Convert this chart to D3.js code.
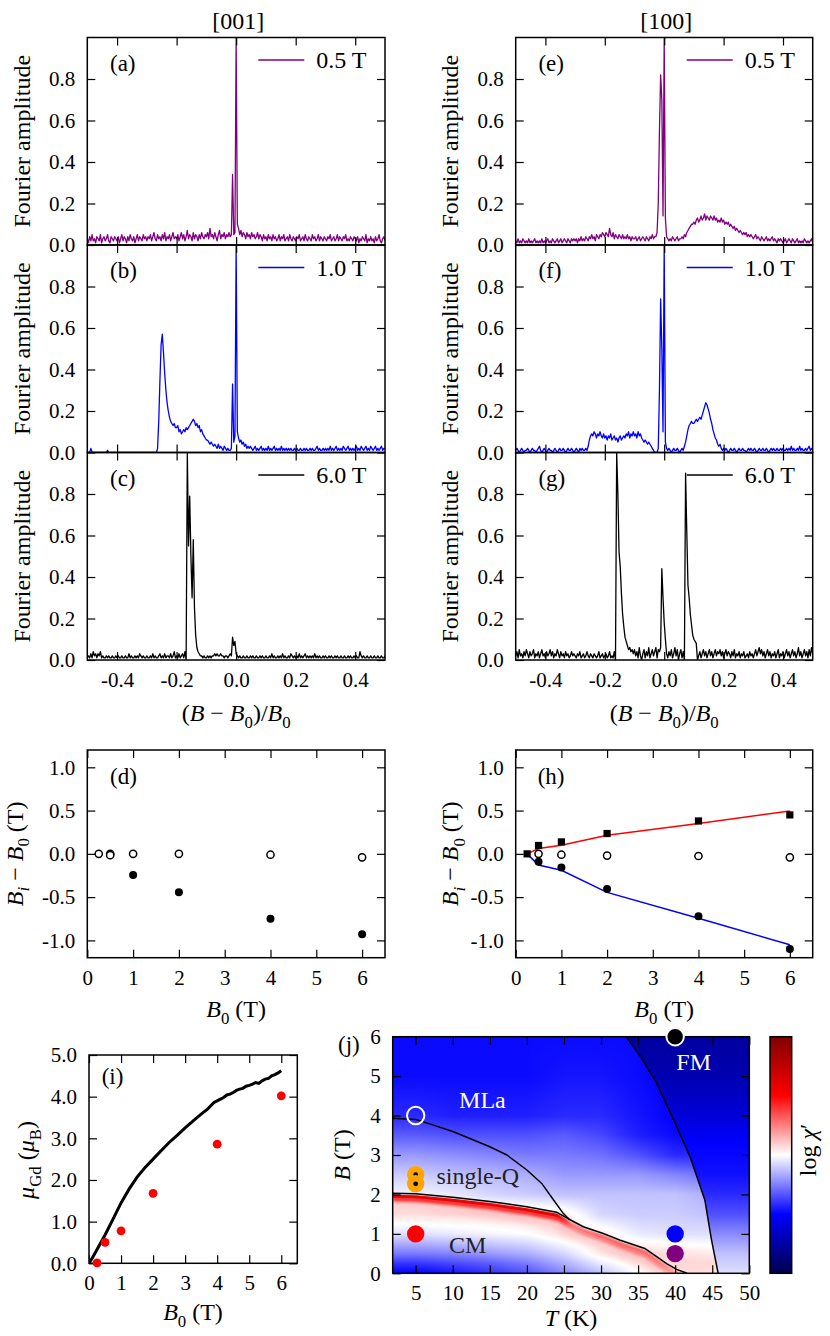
<!DOCTYPE html>
<html><head><meta charset="utf-8">
<script src="https://cdn.jsdelivr.net/npm/d3@7"></script>
<style>
body{margin:0;background:#fff;}
svg, svg text, svg tspan{font-family:'Liberation Serif','DejaVu Serif','Noto Serif',serif !important;}
</style></head><body>
<svg id="fig" width="830" height="1336" font-family="Liberation Serif, DejaVu Serif, serif"></svg>
<script>
// ---------------- DATA ----------------
// Fourier spectra, sampled on (B-B0)/B0 from -0.5 to 0.5 every 0.004 (251 samples)
const specStart = -0.5, specStep = 0.004;
const spec001_05T = [
.03,.01,.04,.02,.05,.02,.03,.01,.04,.03,.02,.05,.01,.03,.04,.02,.03,.05,.02,.01,.04,.03,.02,.04,.03,
.02,.04,.01,.03,.05,.02,.04,.03,.01,.04,.02,.05,.03,.02,.04,.01,.03,.05,.02,.04,.03,.02,.05,.03,.04,
.02,.04,.03,.05,.02,.04,.06,.03,.02,.05,.03,.04,.02,.05,.03,.06,.02,.04,.03,.05,.02,.04,.06,.03,.04,
.03,.05,.02,.04,.06,.03,.05,.02,.04,.07,.03,.05,.04,.02,.06,.03,.05,.04,.02,.05,.03,.06,.04,.03,.05,
.04,.06,.03,.08,.04,.05,.03,.06,.04,.02,.05,.07,.03,.05,.04,.06,.03,.05,.04,.06,.04,.05,.34,.05,.06,
1.0,.10,.08,.05,.07,.04,.06,.05,.03,.06,.04,.05,.03,.06,.04,.05,.03,.04,.06,.03,.05,.04,.02,.05,.03,
.04,.02,.05,.03,.04,.02,.05,.03,.04,.02,.03,.05,.02,.04,.03,.05,.02,.03,.04,.02,.05,.03,.02,.04,.03,
.02,.04,.03,.05,.02,.03,.04,.02,.05,.03,.02,.04,.03,.02,.05,.03,.04,.02,.03,.05,.02,.04,.03,.02,.04,
.03,.02,.04,.03,.05,.02,.03,.04,.02,.03,.05,.02,.04,.03,.02,.04,.03,.05,.02,.03,.02,.04,.03,.02,.04,
.03,.02,.04,.01,.03,.02,.04,.03,.02,.05,.01,.03,.02,.04,.02,.03,.01,.04,.02,.03,.05,.02,.01,.03,.04,
.02];
const spec001_10T = [
0,0,0,.02,0,0,0,0,0,0,0,0,0,0,0,0,0,.01,0,0,0,0,0,0,0,
0,0,0,0,0,0,0,0,0,0,0,0,0,0,0,0,0,0,0,0,0,0,0,0,0,
0,0,0,0,0,0,0,0,0,.02,.15,.35,.52,.57,.48,.38,.30,.24,.20,.17,.15,.14,.13,.14,.12,
.12,.13,.10,.11,.09,.10,.11,.10,.12,.11,.12,.13,.14,.15,.16,.15,.13,.14,.12,.13,.10,.11,.09,.08,.07,
.06,.06,.05,.04,.05,.04,.03,.04,.03,.02,.04,.02,.03,.02,.01,.03,.02,.01,.02,.01,.01,.02,.33,.05,.08,
1.0,.10,.07,.05,.06,.04,.05,.03,.04,.02,.03,.02,.03,.02,.01,.02,.03,.01,.02,.01,.02,.03,.01,.02,.01,
.02,.01,.03,.01,.02,.01,.02,.03,.01,.02,.01,.02,.01,.03,.01,.02,.01,.02,.01,.02,.01,.02,.01,.01,.02,
.01,.02,.01,.01,.02,.01,.01,.02,.01,.02,.01,.01,.02,.01,.02,.01,.01,.02,.03,.01,.02,.01,.01,.02,.01,
.02,.01,.02,.01,.03,.01,.02,.01,.02,.03,.01,.02,.01,.02,.01,.03,.02,.01,.02,.03,.01,.02,.01,.02,.01,
.02,.03,.01,.02,.01,.03,.02,.01,.02,.03,.01,.02,.01,.03,.02,.01,.02,.03,.01,.02,.01,.02,.03,.01,.02,
.02];
const spec001_60T = [
.01,.02,.01,.03,.01,.04,.02,.03,.01,.03,.02,.04,.01,.02,.01,.01,.02,.01,.02,.01,.01,.02,.01,.01,.02,
.01,.02,.01,.01,.02,.01,.01,.02,.01,.01,.03,.01,.02,.01,.01,.02,.01,.02,.01,.03,.02,.01,.02,.01,.01,
.02,.01,.01,.02,.01,.03,.01,.02,.01,.01,.02,.03,.01,.02,.01,.03,.01,.02,.02,.01,.03,.01,.02,.04,.01,
.02,.01,.03,.01,.02,.03,.01,.04,0,1.0,.55,.79,.50,.30,.58,.25,.12,.06,.04,.03,.02,.02,.01,.02,.01,
.01,.02,.01,.02,.01,.02,.02,.03,.02,.03,.02,.02,.03,.02,.02,.01,.02,.02,.01,.02,.03,.02,.11,.07,.09,
.03,.02,.01,.02,.01,.01,.02,.01,.01,.02,.01,.01,.02,.01,.02,.01,.01,.02,.01,.01,.02,.01,.02,.01,.01,
.02,.01,.01,.02,.01,.03,.01,.02,.01,.01,.02,.01,.02,.01,.03,.01,.02,.01,.01,.02,.01,.03,.02,.01,.02,
.01,.02,.01,.03,.01,.02,.01,.02,.03,.01,.02,.01,.02,.01,.02,.01,.03,.01,.02,.01,.02,.01,.01,.02,.01,
.02,.01,.01,.02,.01,.02,.01,.01,.02,.01,.02,.01,.01,.02,.01,.01,.02,.01,.01,.02,.01,.02,.01,.01,.02,
.01,.02,.01,.01,.04,.02,.01,.02,.01,.01,.02,.01,.01,.02,.01,.01,.02,.01,.01,.02,.01,.01,.02,.01,.01,
.02];
const spec100_05T = [
.02,.01,.03,.01,.02,.01,.03,.02,.01,.02,.01,.03,.01,.02,.01,.02,.03,.01,.02,.01,.02,.01,.03,.01,.02,
.01,.02,.03,.01,.02,.01,.03,.02,.01,.02,.03,.01,.02,.03,.01,.02,.03,.02,.01,.03,.02,.01,.03,.02,.03,
.02,.03,.01,.03,.02,.04,.02,.03,.02,.04,.03,.02,.04,.03,.05,.03,.04,.02,.05,.04,.03,.05,.04,.06,.05,
.04,.06,.05,.04,.08,.05,.04,.06,.03,.05,.04,.03,.05,.04,.03,.05,.03,.04,.03,.05,.03,.04,.02,.04,.03,
.03,.04,.02,.03,.04,.02,.03,.04,.03,.02,.04,.03,.02,.04,.03,.05,.03,.04,.04,.06,.20,.55,.82,.70,.14,
1.0,.13,.04,.03,.02,.03,.02,.04,.03,.02,.03,.04,.02,.03,.03,.04,.03,.05,.04,.06,.07,.08,.09,.10,.10,
.11,.10,.12,.13,.11,.12,.14,.12,.13,.15,.12,.14,.13,.12,.14,.13,.12,.14,.12,.13,.11,.12,.11,.13,.11,
.12,.10,.11,.10,.11,.09,.10,.09,.08,.09,.07,.08,.07,.06,.07,.06,.05,.06,.05,.06,.04,.05,.04,.05,.04,
.03,.04,.05,.03,.04,.03,.02,.04,.03,.02,.03,.04,.02,.03,.02,.03,.04,.02,.03,.02,.01,.03,.02,.03,.02,
.01,.02,.03,.01,.02,.03,.02,.01,.03,.02,.01,.02,.03,.01,.02,.01,.02,.01,.03,.02,.01,.02,.01,.02,.03,
.01];
const spec100_10T = [
.01,.02,.01,0,.01,.02,.01,0,.01,.01,.02,.01,0,.01,.02,.01,.01,0,.01,.02,.03,.01,0,.01,.02,
.01,0,.01,.02,.01,.01,0,.01,.02,.01,0,.01,.02,.01,.01,.02,.01,0,.01,.02,.01,.01,.02,.01,0,
.01,.02,.01,0,.02,.01,.02,.01,.01,.02,.01,.03,.06,.08,.09,.08,.10,.09,.07,.09,.08,.10,.08,.07,.09,
.07,.08,.06,.08,.07,.09,.06,.07,.08,.06,.07,.05,.07,.08,.06,.07,.08,.07,.09,.08,.10,.07,.09,.08,.10,
.08,.09,.07,.10,.08,.09,.07,.06,.05,.06,.05,.04,.05,.04,.03,.02,.01,0,0,0,.02,.30,.74,.50,.10,
1.0,.05,.02,.01,.02,.01,0,.01,.02,.01,.01,.02,.01,0,.01,.02,.01,.03,.05,.08,.11,.13,.14,.15,.14,
.14,.15,.16,.15,.16,.17,.16,.18,.20,.22,.24,.23,.21,.19,.16,.14,.11,.09,.07,.06,.04,.03,.04,.02,.01,
.02,.01,.02,.01,0,.01,.02,.01,.01,.02,.01,0,.01,.02,.01,.01,.02,.01,.01,0,.01,.02,.01,.02,.01,
.01,.02,.01,0,.01,.02,.01,.01,.02,.01,.01,.02,.01,0,.01,.02,.01,.02,.01,.01,.02,.01,.01,.02,.01,
.02,.01,.01,.02,.01,.02,.01,.03,.01,.02,.01,.01,.02,.01,.03,.01,.02,.01,.01,.02,.01,.02,.03,.01,.02,
.01];
const spec100_60T = [
.02,.04,.01,.05,.02,.03,.01,.04,.02,.05,.03,.01,.04,.02,.03,.05,.01,.03,.02,.04,.01,.03,.05,.02,.03,
.01,.04,.02,.03,.05,.02,.04,.01,.03,.02,.05,.03,.01,.04,.02,.03,.01,.04,.02,.03,.01,.02,.04,.02,.03,
.02,.01,.03,.02,.04,.01,.02,.03,.01,.02,.04,.02,.01,.03,.02,.01,.03,.02,.01,.02,.04,.01,.02,.03,.01,
.02,.03,.01,.02,.04,.01,.02,.01,.04,0,1.0,.80,.52,.45,.32,.22,.16,.11,.09,.07,.05,.06,.04,.05,.03,
.05,.02,.04,.01,.06,.02,0,.03,.05,.01,.04,.02,.06,.01,.03,.05,.02,.04,.06,.01,.05,.04,.06,.44,.30,
.18,.10,.03,.01,.04,.02,.05,.01,.03,.06,.02,.05,0,.03,.05,.01,.04,0,.90,.62,.36,.30,.22,.17,.12,
.10,.09,.08,0,.02,.04,.01,.03,.05,.02,.04,.01,.03,.05,.02,.04,.01,.03,.05,.02,.04,.03,.05,.02,.04,
.01,.03,.05,.02,.04,.03,.01,.04,.02,.05,.01,.03,.02,.04,.01,.03,.02,.04,.01,.02,.03,.01,.04,.02,.03,
.01,.03,.05,.02,.04,.06,.03,.05,.02,.04,.01,.03,.05,.02,.04,.01,.03,.02,.04,.01,.03,.05,.01,.03,.02,
.04,.01,.03,.05,.02,.04,.01,.03,.05,.02,.04,.01,.03,.06,.02,.04,.01,.03,.05,.02,.04,.01,.05,.02,.06,
.03];
const specTicksX = [-0.4,-0.2,0,0.2,0.4];
const specTicksY = [0,0.2,0.4,0.6,0.8];

// (d) [001] peak positions
const dOpenB0 = [0.25,0.5,0.5,1,2,4,6];
const dOpenDB = [0,0,-0.015,0,0,-0.01,-0.04];
const dFillB0 = [1,2,4,6];
const dFillDB = [-0.245,-0.445,-0.75,-0.93];
// (h) [100] peak positions
const hSqB0 = [0.25,0.5,1,2,4,6];
const hSqDB = [0,0.097,0.138,0.235,0.38,0.45];
const hFillB0 = [0.5,1,2,4,6];
const hFillDB = [-0.092,-0.157,-0.407,-0.72,-1.1];
const hOpenB0 = [0.5,1,2,4,6];
const hOpenDB = [0,-0.01,-0.02,-0.025,-0.04];
const hRedB0 = [0.25,0.5,1,2,4,6];
const hRedDB = [0,0.062,0.1,0.215,0.35,0.495];
const hBlueB0 = [0.25,0.5,1,2,4,6];
const hBlueDB = [0,-0.13,-0.19,-0.445,-0.745,-1.05];
const dhTicksX = [0,1,2,3,4,5,6];
const dhTicksY = [-1,-0.5,0,0.5,1];

// (i) moment
const iCurveB0 = [0,0.1,0.25,0.5,0.75,1.0,1.25,1.5,1.75,2.0,2.25,2.5,2.75,3.0,3.25,3.5,3.7,3.8,3.9,4.0,4.1,4.2,4.3,4.4,4.5,4.6,4.7,4.8,4.9,5.0,5.1,5.2,5.3,5.4,5.5,5.6,5.7,5.8,5.9,6.0];
const iCurveMu = [0,0.12,0.33,0.68,1.06,1.45,1.78,2.07,2.3,2.5,2.7,2.9,3.07,3.25,3.42,3.58,3.7,3.78,3.86,3.9,3.94,3.98,4.04,4.06,4.1,4.15,4.18,4.2,4.25,4.27,4.3,4.34,4.32,4.38,4.42,4.44,4.5,4.53,4.57,4.62];
const iDotsB0 = [0.25,0.5,1,2,4,6];
const iDotsMu = [0.01,0.5,0.78,1.68,2.86,4.02];
const iTicksX = [0,1,2,3,4,5,6];
const iTicksY = [0,1,2,3,4,5];

// (j) phase diagram: log chi' map (normalised colour value, 0.5 = white)
const jGridT = [1.9,5,10,15,20,25,30,35,40,45,50];
const jGridB = [0,0.25,0.5,1,1.5,2,2.5,3,3.5,4,5,6];
const jChi = [
 [.25,.25,.27,.30,.33,.38,.44,.50,.53,.53,.50],
 [.30,.30,.32,.34,.37,.42,.48,.52,.54,.54,.50],
 [.37,.37,.38,.40,.42,.46,.52,.54,.53,.52,.49],
 [.47,.47,.48,.49,.50,.53,.52,.48,.47,.47,.45],
 [.53,.53,.53,.53,.53,.52,.46,.45,.45,.44,.42],
 [.49,.49,.48,.46,.45,.44,.44,.44,.44,.42,.40],
 [.45,.45,.44,.43,.42,.40,.40,.40,.38,.36,.34],
 [.40,.40,.39,.38,.37,.37,.36,.33,.29,.29,.29],
 [.34,.34,.33,.33,.33,.34,.32,.28,.26,.26,.26],
 [.29,.29,.28,.28,.28,.29,.29,.27,.25,.25,.25],
 [.26,.26,.26,.26,.26,.27,.27,.26,.25,.25,.25],
 [.26,.26,.26,.26,.26,.26,.26,.26,.25,.25,.25]];
const jMLaLine = [[1.9,3.93],[5,3.9],[6.9,3.79],[10.1,3.59],[12.8,3.38],[15,3.21],[17.3,3.0],[20,2.62],[22,2.28],[23.6,1.86],[24.9,1.52],[25.7,1.37]];
const jCMLine = [[1.9,2.03],[5,2.02],[10,1.93],[15,1.82],[20,1.69],[24,1.55],[25.7,1.37],[27.6,1.18],[30.3,1.01],[32.6,0.84],[35.9,0.63],[37.5,0.42],[38.9,0.24],[40.2,0.1],[41.6,0]];
const jFMLine = [[33.4,6],[35.3,5.5],[37.5,4.82],[37.9,4.65],[39.8,3.89],[42,2.96],[44,1.86],[44.9,0.85],[45.8,0]];
const jFMShade = [[6,"#0000a0"],[5,"#0000b0"],[4,"#0000d8"],[3.3,"#0000ff"],[2.5,"#1010ff"],[2,"#2a2aff"],[1.5,"#5050ff"],[1,"#8a8aff"],[0.5,"#c0c0ff"],[0,"#e0e0ff"]];
const jMarkers = [
 {T:40,B:6,fill:"#000",stroke:"#fff"},
 {T:5,B:4,fill:"none",stroke:"#fff"},
 {T:5,B:2.5,fill:"#ffa500",stroke:"none",dot:true},
 {T:5,B:2.27,fill:"#ffa500",stroke:"none",dot:true},
 {T:5,B:1,fill:"#ff0000",stroke:"none"},
 {T:40,B:1,fill:"#0000ff",stroke:"none"},
 {T:40,B:0.5,fill:"#800080",stroke:"none"}];
const jTicksX = [5,10,15,20,25,30,35,40,45,50];
const jTicksY = [0,1,2,3,4,5,6];

// ---------------- DRAWING ----------------
const FONT = "Liberation Serif, DejaVu Serif, serif";
const svg = d3.select("#fig");
const defs = svg.append("defs");
const TICK = 21, LAB = 24;
const fmt1 = d => d3.format(".1f")(d).replace("\u2212","-");
const fmt0 = d => d3.format("d")(d);

function panel(l,t,w,h,xd,yd,id){
  const g = svg.append("g").attr("transform",`translate(${l},${t})`);
  const x = d3.scaleLinear().domain(xd).range([0,w]);
  const y = d3.scaleLinear().domain(yd).range([h,0]);
  defs.append("clipPath").attr("id",id).append("rect").attr("width",w).attr("height",h);
  const plot = g.append("g").attr("clip-path",`url(#${id})`);
  return {g,plot,x,y,w,h,l,t};
}
function styleAxis(sel){
  sel.attr("font-family",FONT).attr("font-size",null);
  sel.select(".domain").remove();
  sel.selectAll(".tick line").attr("stroke","#000").attr("stroke-width",1.2);
  sel.selectAll(".tick text").attr("font-size",TICK).attr("fill","#000").attr("font-family",FONT);
}
function axes(p,o){
  const {g,x,y,w,h} = p;
  g.append("g").attr("transform",`translate(0,${h})`)
    .call(d3.axisBottom(x).tickValues(o.xt).tickSize(-8).tickPadding(12).tickFormat(o.xf||""))
    .call(styleAxis);
  g.append("g").call(d3.axisTop(x).tickValues(o.xt).tickSize(-8).tickFormat("")).call(styleAxis);
  g.append("g").call(d3.axisLeft(y).tickValues(o.yt).tickSize(-8).tickPadding(12).tickFormat(o.yf||"")).call(styleAxis);
  g.append("g").attr("transform",`translate(${w},0)`).call(d3.axisRight(y).tickValues(o.yt).tickSize(-8).tickFormat("")).call(styleAxis);
  g.append("rect").attr("width",w).attr("height",h).attr("fill","none").attr("stroke","#000").attr("stroke-width",1.5);
}
function txt(parent,x,y,s,size,opt={}){
  return parent.append("text").attr("x",x).attr("y",y).attr("font-size",size).attr("font-family",FONT)
    .attr("text-anchor",opt.anchor||"start").attr("fill",opt.fill||"#000").text(s);
}
function rich(parent,x,y,parts,size,opt={}){
  const t = parent.append("text").attr("font-size",size).attr("font-family",FONT)
    .attr("text-anchor",opt.anchor||"middle").attr("fill",opt.fill||"#000");
  if (opt.rotate) t.attr("transform",`translate(${x},${y}) rotate(${opt.rotate})`);
  else t.attr("x",x).attr("y",y);
  let shift = 0;
  parts.forEach(p=>{
    const [s,st=""] = Array.isArray(p)?p:[p,""];
    const sub = st.includes("s");
    const ts = t.append("tspan").text(s);
    if (st.includes("i")) ts.attr("font-style","italic");
    const target = sub ? size*0.28 : 0;
    if (target!==shift) ts.attr("dy",target-shift);
    shift = target;
    if (sub) ts.attr("font-size",size*0.7);
  });
  return t;
}

// ---- spectra (a)-(c), (e)-(g)
const cols = [{l:87.3,w:297.7,yl:29.5,title:"[001]"},{l:515.7,w:297,yl:458,title:"[100]"}];
const rows = [37.5,245,452.5], RH = 207.5;
const spectra = [
 {c:0,r:0,d:spec001_05T,color:"#800080",lab:"(a)",leg:"0.5 T"},
 {c:0,r:1,d:spec001_10T,color:"#0000ff",lab:"(b)",leg:"1.0 T"},
 {c:0,r:2,d:spec001_60T,color:"#000000",lab:"(c)",leg:"6.0 T"},
 {c:1,r:0,d:spec100_05T,color:"#800080",lab:"(e)",leg:"0.5 T"},
 {c:1,r:1,d:spec100_10T,color:"#0000ff",lab:"(f)",leg:"1.0 T"},
 {c:1,r:2,d:spec100_60T,color:"#000000",lab:"(g)",leg:"6.0 T"}];
spectra.forEach((s,k)=>{
  const C = cols[s.c];
  const p = panel(C.l,rows[s.r],C.w,RH,[-0.5,0.5],[0,1.0],"clipS"+k);
  const pts = s.d.map((v,i)=>[specStart+i*specStep, v]);
  p.plot.append("path").datum(pts)
    .attr("d",d3.line().x(d=>p.x(d[0])).y(d=>p.y(d[1])))
    .attr("fill","none").attr("stroke",s.color).attr("stroke-width",1.3).attr("stroke-linejoin","round");
  axes(p,{xt:specTicksX,yt:specTicksY,xf:s.r===2?fmt1:null,yf:fmt1});
  p.g.append("line").attr("x1",171).attr("x2",217).attr("y1",22.5).attr("y2",22.5)
    .attr("stroke",s.color).attr("stroke-width",1.5);
  txt(p.g,229,30.5,s.leg,LAB);
  txt(p.g,22.7,33,s.lab,23);
  rich(svg,C.yl,rows[s.r]+RH/2,["Fourier amplitude"],LAB,{rotate:-90});
  if (s.r===2) rich(svg,C.l+C.w/2,721,["(",["B","i"]," \u2212 ",["B","i"],["0","s"],")/",["B","i"],["0","s"]],LAB);
});
cols.forEach(C=> txt(svg,C.l+C.w/2+2,29,C.title,24,{anchor:"middle"}));

// ---- (d) and (h)
const DH_T = 750, DH_H = 207.7;
function openCircles(p,xs,ys){
  p.g.selectAll(null).data(xs.map((v,i)=>[v,ys[i]])).join("circle")
    .attr("cx",d=>p.x(d[0])).attr("cy",d=>p.y(d[1])).attr("r",3.6)
    .attr("fill","#fff").attr("stroke","#000").attr("stroke-width",1.5);
}
function fillCircles(p,xs,ys,r=4,color="#000"){
  p.g.selectAll(null).data(xs.map((v,i)=>[v,ys[i]])).join("circle")
    .attr("cx",d=>p.x(d[0])).attr("cy",d=>p.y(d[1])).attr("r",r).attr("fill",color);
}
const pd = panel(87.3,DH_T,297.7,DH_H,[0,6.5],[-1.2,1.2],"clipD");
axes(pd,{xt:dhTicksX,yt:dhTicksY,xf:fmt0,yf:fmt1});
openCircles(pd,dOpenB0,dOpenDB);
fillCircles(pd,dFillB0,dFillDB);
txt(pd.g,22.7,34,"(d)",23);

const ph = panel(515.7,DH_T,297,DH_H,[0,6.5],[-1.2,1.2],"clipH");
const lineH = d3.line().x(d=>ph.x(d[0])).y(d=>ph.y(d[1]));
ph.plot.append("path").attr("d",lineH(hRedB0.map((v,i)=>[v,hRedDB[i]]))).attr("fill","none").attr("stroke","#ff0000").attr("stroke-width",1.5);
ph.plot.append("path").attr("d",lineH(hBlueB0.map((v,i)=>[v,hBlueDB[i]]))).attr("fill","none").attr("stroke","#0000ff").attr("stroke-width",1.5);
axes(ph,{xt:dhTicksX,yt:dhTicksY,xf:fmt0,yf:fmt1});
ph.g.selectAll(null).data(hSqB0.map((v,i)=>[v,hSqDB[i]])).join("rect")
  .attr("x",d=>ph.x(d[0])-3.6).attr("y",d=>ph.y(d[1])-3.6).attr("width",7.2).attr("height",7.2).attr("fill","#000");
fillCircles(ph,hFillB0,hFillDB);
openCircles(ph,hOpenB0,hOpenDB);
txt(ph.g,22,34,"(h)",23);

[[pd,16.5],[ph,452]].forEach(([p,xl])=>{
  rich(svg,xl+6,DH_T+DH_H/2,[["B","i"],["i","si"]," \u2212 ",["B","i"],["0","s"]," (T)"],LAB,{rotate:-90});
  rich(svg,p.l+p.w/2,1017,[["B","i"],["0","s"]," (T)"],LAB);
});

// ---- (i)
const pi = panel(89,1055,208.3,208.3,[0,6.5],[0,5],"clipI");
pi.plot.append("path").datum(iCurveB0.map((v,i)=>[v,iCurveMu[i]]))
  .attr("d",d3.line().x(d=>pi.x(d[0])).y(d=>pi.y(d[1])))
  .attr("fill","none").attr("stroke","#000").attr("stroke-width",3);
axes(pi,{xt:iTicksX,yt:iTicksY,xf:fmt0,yf:fmt1});
fillCircles(pi,iDotsB0,iDotsMu,4.4,"#ff0000");
txt(pi.g,12.7,29,"(i)",23);
rich(svg,34,1160,[["\u03bc","i"],["Gd","s"]," (",["\u03bc","i"],["B","s"],")"],LAB,{rotate:-90});
rich(svg,193,1320,[["B","i"],["0","s"]," (T)"],LAB);

// ---- (j)
const seismic = d3.scaleLinear().domain([0,0.25,0.5,0.75,1])
  .range(["rgb(0,0,77)","rgb(0,0,255)","rgb(255,255,255)","rgb(255,0,0)","rgb(128,0,0)"]).clamp(true);
const pj = panel(392.7,1036.7,356.6,236.6,[1.9,50],[0,6],"clipJ");
function chiAt(T,B){
  let i = Math.max(0,Math.min(jGridT.length-2,d3.bisectRight(jGridT,T)-1));
  let j = Math.max(0,Math.min(jGridB.length-2,d3.bisectRight(jGridB,B)-1));
  const tx = Math.max(0,Math.min(1,(T-jGridT[i])/(jGridT[i+1]-jGridT[i])));
  const ty = Math.max(0,Math.min(1,(B-jGridB[j])/(jGridB[j+1]-jGridB[j])));
  const a = jChi[j][i]*(1-tx)+jChi[j][i+1]*tx;
  const b = jChi[j+1][i]*(1-tx)+jChi[j+1][i+1]*tx;
  return a*(1-ty)+b*ty;
}
{
  const cw = Math.round(pj.w), ch = Math.round(pj.h);
  const cv = document.createElement("canvas"); cv.width = cw; cv.height = ch;
  const ctx = cv.getContext("2d"); const img = ctx.createImageData(cw,ch);
  const sx = pj.w/cw, sy = pj.h/ch;
  for (let py=0; py<ch; py++){
    const B = pj.y.invert((py+0.5)*sy);
    for (let px=0; px<cw; px++){
      const T = pj.x.invert((px+0.5)*sx);
      const c = d3.rgb(seismic(chiAt(T,B)));
      const k = 4*(py*cw+px);
      img.data[k]=c.r; img.data[k+1]=c.g; img.data[k+2]=c.b; img.data[k+3]=255;
    }
  }
  ctx.putImageData(img,0,0);
  pj.plot.append("image").attr("href",cv.toDataURL()).attr("width",pj.w).attr("height",pj.h)
    .attr("preserveAspectRatio","none");
}
// FM region shading
{
  const gr = defs.append("linearGradient").attr("id","fmGrad").attr("gradientUnits","userSpaceOnUse")
    .attr("x1",0).attr("x2",0).attr("y1",pj.y(6)).attr("y2",pj.y(0));
  jFMShade.forEach(([B,c])=>gr.append("stop").attr("offset",(6-B)/6).attr("stop-color",c));
  const poly = jFMLine.concat([[50,0],[50,6]]);
  pj.plot.append("path").attr("d",d3.line().x(d=>pj.x(d[0])).y(d=>pj.y(d[1]))(poly)+"Z")
    .attr("fill","url(#fmGrad)");
}
// susceptibility ridge along CM boundary
function hGrad(id,color,stops){
  const gr = defs.append("linearGradient").attr("id",id).attr("gradientUnits","userSpaceOnUse")
    .attr("x1",pj.x(1.9)).attr("x2",pj.x(41.6)).attr("y1",0).attr("y2",0);
  stops.forEach(([T,o])=>gr.append("stop").attr("offset",(T-1.9)/(41.6-1.9)).attr("stop-color",color).attr("stop-opacity",o));
}
function blur(id,s){
  defs.append("filter").attr("id",id).attr("filterUnits","userSpaceOnUse")
    .attr("x",-60).attr("y",-60).attr("width",500).attr("height",380)
    .append("feGaussianBlur").attr("stdDeviation",s);
}
blur("bl4",3.5); blur("bl2",1.6); blur("bl1",0.7);
hGrad("rgHalo","#ff9090",[[1.9,0.4],[24,0.4],[27,0.35],[37,0.35],[41.6,0.2]]);
hGrad("rgBody","#ff1a1a",[[1.9,0.95],[24,0.95],[26.5,0.45],[33,0.55],[38,0.4],[41.6,0.1]]);
hGrad("rgCore","#e00000",[[1.9,0.95],[24,0.95],[26,0.15],[30,0.3],[36,0.25],[41.6,0]]);
[["rgHalo",11,11,"bl4"],["rgBody",5.5,5.5,"bl2"],["rgCore",3,3,"bl1"]].forEach(([g,wd,off,f])=>{
  pj.plot.append("path").attr("d",d3.line().x(d=>pj.x(d[0])).y(d=>pj.y(d[1])+off)(jCMLine))
    .attr("fill","none").attr("stroke",`url(#${g})`).attr("stroke-width",wd).attr("filter",`url(#${f})`);
});
const lineJ = d3.line().x(d=>pj.x(d[0])).y(d=>pj.y(d[1]));
[jMLaLine,jCMLine,jFMLine].forEach(L=>pj.plot.append("path").attr("d",lineJ(L))
  .attr("fill","none").attr("stroke","#000").attr("stroke-width",1.5));
txt(pj.g,pj.x(14),pj.y(4.2),"MLa",LAB,{anchor:"middle",fill:"#fff"});
txt(pj.g,pj.x(42.5),pj.y(5.15),"FM",LAB,{anchor:"middle",fill:"#fff"});
txt(pj.g,pj.x(7.8),pj.y(2.27),"single-Q",LAB,{fill:"#222"});
txt(pj.g,pj.x(12),pj.y(0.52),"CM",LAB,{anchor:"middle",fill:"#222"});
axes(pj,{xt:jTicksX,yt:jTicksY,xf:fmt0,yf:fmt0});
jMarkers.forEach(m=>{
  pj.g.append("circle").attr("cx",pj.x(m.T)).attr("cy",pj.y(m.B)).attr("r",8.7)
    .attr("fill",m.fill).attr("stroke",m.stroke).attr("stroke-width",m.stroke==="none"?0:2);
  if (m.dot) pj.g.append("circle").attr("cx",pj.x(m.T)).attr("cy",pj.y(m.B)).attr("r",2.4).attr("fill","#000");
});
txt(svg,338,1052,"(j)",23);
rich(svg,350,1155,[["B","i"]," (T)"],LAB,{rotate:-90});
rich(svg,571,1326,[["T","i"]," (K)"],LAB);

// colour bar
{
  const gr = defs.append("linearGradient").attr("id","cbGrad").attr("x1",0).attr("x2",0).attr("y1",1).attr("y2",0);
  [0,0.25,0.5,0.75,1].forEach(v=>gr.append("stop").attr("offset",v).attr("stop-color",seismic(v)));
  svg.append("rect").attr("x",770).attr("y",1036.7).attr("width",21.7).attr("height",236.6)
    .attr("fill","url(#cbGrad)").attr("stroke","#000").attr("stroke-width",1.5);
  rich(svg,816,1150,["log ",["\u03c7","i"],"\u2032"],LAB,{rotate:-90});
}
</script>
</body></html>
